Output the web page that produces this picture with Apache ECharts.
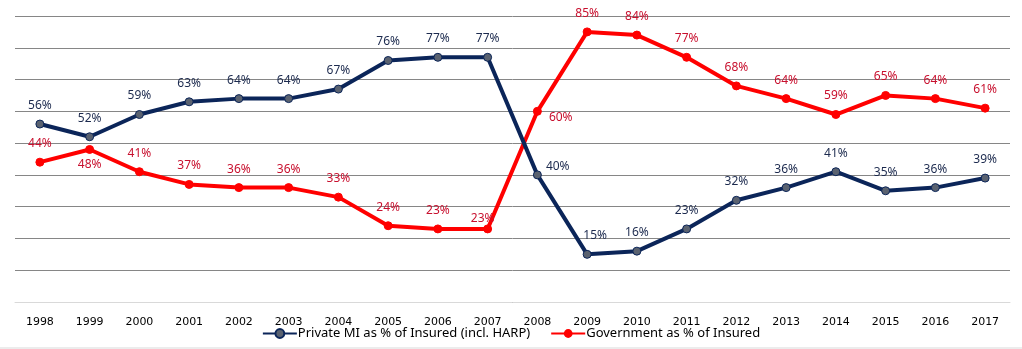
<!DOCTYPE html>
<html><head><meta charset="utf-8">
<script src="https://cdn.jsdelivr.net/npm/echarts@6/dist/echarts.min.js"></script>
<style>html,body{margin:0;padding:0;background:#fff}#c{width:1022px;height:349px}</style>
</head><body><div id="c"></div>
<script>
var years = ['1998','1999','2000','2001','2002','2003','2004','2005','2006','2007','2008','2009','2010','2011','2012','2013','2014','2015','2016','2017'];
var privateMI = [56,52,59,63,64,64,67,76,77,77,40,15,16,23,32,36,41,35,36,39];
var government = [44,48,41,37,36,36,33,24,23,23,60,85,84,77,68,64,59,65,64,61];
var yTicks = [0,10,20,30,40,50,60,70,80,90];

var FONT = 'DejaVu Sans';
var LFONT = 'Noto Sans';
var privLabelPos = {10: {position: 'right', offset: [-4, -8]}, 11: {offset: [8, 0]}};
var govLabelPos = {1: {position: 'bottom', distance: 5}, 9: {position: 'top', offset: [-5, 8]}, 10: {position: 'right', offset: [-1, 6]}};

function items(vals, over) {
  return vals.map(function (v, i) {
    var o = {value: v};
    if (over[i]) o.label = over[i];
    return o;
  });
}

var chart = echarts.init(document.getElementById('c'), null, {renderer: 'canvas'});
chart.setOption({
  animation: false,
  backgroundColor: '#fff',
  grid: {left: 15, right: 12, top: 16, bottom: 47, containLabel: false},
  xAxis: {
    type: 'category', data: years, boundaryGap: true,
    axisLine: {show: true, lineStyle: {color: '#d9d9d9', width: 1}},
    axisTick: {show: false},
    axisLabel: {color: '#000', fontFamily: FONT, fontSize: 11, margin: 15}
  },
  yAxis: {
    type: 'value', min: yTicks[0], max: yTicks[yTicks.length - 1], interval: 10,
    axisLabel: {show: false}, axisLine: {show: false}, axisTick: {show: false},
    splitLine: {show: true, lineStyle: {color: '#868686', width: 1}}
  },
  legend: {
    bottom: 4, left: 'center', itemGap: 20, itemWidth: 34, itemHeight: 11,
    textStyle: {fontFamily: LFONT, fontSize: 13, color: '#000', padding: [0, 0, 0, -4]},
    data: ['Private MI as % of Insured (incl. HARP)', 'Government as % of Insured']
  },
  graphic: [{type: 'line', shape: {x1: 0, y1: 348, x2: 1022, y2: 348}, style: {stroke: '#d9d9d9', lineWidth: 1}}],
  series: [
    {
      name: 'Private MI as % of Insured (incl. HARP)', type: 'line',
      data: items(privateMI, privLabelPos),
      symbol: 'circle', symbolSize: 8,
      lineStyle: {color: '#0b2559', width: 4},
      itemStyle: {color: '#5a6270', borderColor: '#0b2559', borderWidth: 1},
      label: {show: true, position: 'top', distance: 8, color: '#1c2a4e', fontFamily: LFONT, fontSize: 12, formatter: '{c}%'},
      z: 3
    },
    {
      name: 'Government as % of Insured', type: 'line',
      data: items(government, govLabelPos),
      symbol: 'circle', symbolSize: 8,
      lineStyle: {color: '#ff0000', width: 4},
      itemStyle: {color: '#ff0000', borderColor: '#ff0000'},
      label: {show: true, position: 'top', distance: 8, color: '#c8102e', fontFamily: LFONT, fontSize: 12, formatter: '{c}%'},
      z: 2
    }
  ]
});
</script></body></html>
